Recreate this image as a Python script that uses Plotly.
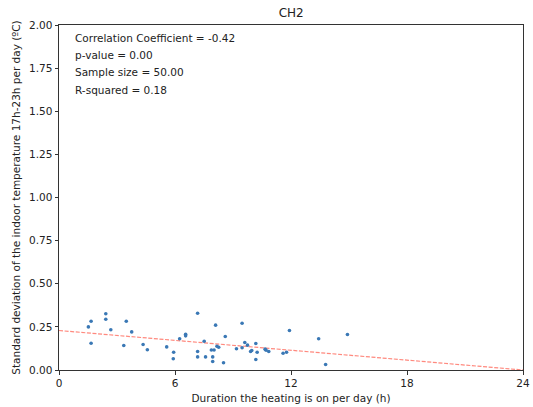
import plotly.graph_objects as go

hours_on = [1.52, 1.66, 2.42, 2.42, 2.68, 3.48, 3.76, 1.66, 3.35, 4.35, 4.57,
            7.17, 8.10, 6.55, 6.55, 6.24, 7.51, 8.60, 5.57, 5.93, 5.91, 7.17,
            7.17, 7.58, 7.95, 7.95, 7.88, 8.02, 8.17, 8.26, 8.51,
            9.47, 11.92, 9.61, 9.75, 10.18, 9.18, 9.47, 9.91, 9.97, 10.25,
            10.66, 10.71, 10.85, 10.18, 11.59, 11.77, 13.43, 14.92, 13.79]
std_temp = [0.250, 0.283, 0.326, 0.294, 0.233, 0.283, 0.221, 0.155, 0.142, 0.148, 0.117,
            0.329, 0.260, 0.207, 0.198, 0.181, 0.167, 0.194, 0.134, 0.103, 0.065, 0.107,
            0.076, 0.076, 0.076, 0.049, 0.116, 0.116, 0.138, 0.132, 0.042,
            0.271, 0.229, 0.159, 0.144, 0.154, 0.123, 0.129, 0.107, 0.113, 0.103,
            0.121, 0.115, 0.107, 0.061, 0.097, 0.103, 0.181, 0.206, 0.032]

fit_x = [0, 24]
fit_y = [0.229, 0.0]

stats_lines = ["Correlation Coefficient = -0.42", "p-value = 0.00",
               "Sample size = 50.00", "R-squared = 0.18"]
x_ticks = [0, 6, 12, 18, 24]
y_ticks = [0, 0.25, 0.5, 0.75, 1.0, 1.25, 1.5, 1.75, 2.0]

FONT = "DejaVu Sans"

fig = go.Figure()
fig.add_trace(go.Scatter(x=fit_x, y=fit_y, mode="lines",
                         line=dict(color="rgba(255,40,20,0.55)", width=1.2, dash="4px,1.6px"),
                         showlegend=False, hoverinfo="skip"))
fig.add_trace(go.Scatter(x=hours_on, y=std_temp, mode="markers",
                         marker=dict(color="#3a78b5", size=3.6, line=dict(width=0)),
                         showlegend=False))

for i, t in enumerate(stats_lines):
    fig.add_annotation(text=t, xref="paper", yref="paper", x=0.03,
                       y=1 - (38.3 + 17.2 * i - 25.3) / 345.2,
                       xanchor="left", yanchor="middle", showarrow=False,
                       font=dict(family=FONT, size=10.5, color="#222"))

axis_common = dict(showline=True, linecolor="#333", linewidth=1, mirror=True,
                   ticks="outside", ticklen=3.5, tickcolor="#333", showgrid=False,
                   zeroline=False, automargin=False,
                   tickfont=dict(family=FONT, size=10.5, color="#222"))

fig.update_layout(
    width=533, height=407,
    margin=dict(l=59, r=9.5, t=25.3, b=36.5, autoexpand=False),
    paper_bgcolor="white", plot_bgcolor="white",
    title=dict(text="CH2", x=(58.8 + 523.5) / 2 / 533, xanchor="center",
               y=1 - 12.5 / 407, yanchor="middle",
               font=dict(family=FONT, size=12, color="#222")),
    xaxis=dict(range=[0, 24], tickvals=x_ticks, ticktext=[str(v) for v in x_ticks],
               title=dict(text="Duration the heating is on per day (h)", standoff=6,
                          font=dict(family=FONT, size=10.5, color="#222")),
               **axis_common),
    yaxis=dict(range=[0, 2], tickvals=y_ticks, tickformat=".2f",
               title=dict(text="Standard deviation of the indoor temperature 17h-23h per day (ºC)",
                          standoff=6, font=dict(family=FONT, size=10.5, color="#222")),
               **axis_common),
)

fig.write_html("out.html")
